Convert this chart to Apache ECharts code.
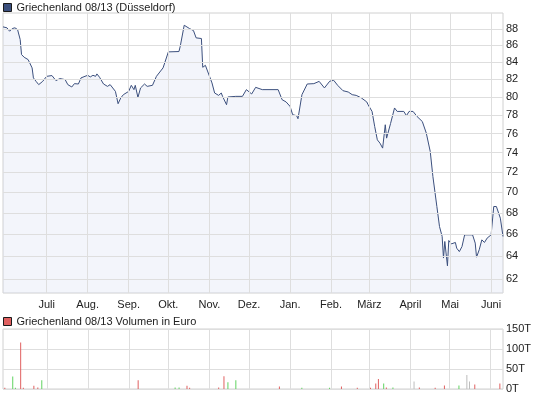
<!DOCTYPE html>
<html>
<head>
<meta charset="utf-8">
<script src="https://cdn.jsdelivr.net/npm/echarts@6/dist/echarts.min.js"></script>
<style>
html,body{margin:0;padding:0;background:#fff;}
#chart{width:545px;height:398px;}
</style>
</head>
<body>
<div id="chart"></div>
<script>
const priceName = 'Griechenland 08/13 (Düsseldorf)';
const volumeName = 'Griechenland 08/13 Volumen in Euro';

const priceDates = [
'2011-05-29','2011-06-01','2011-06-03','2011-06-05','2011-06-07','2011-06-09','2011-06-11','2011-06-12','2011-06-14','2011-06-17',
'2011-06-20','2011-06-21','2011-06-23','2011-06-25','2011-06-28','2011-07-01','2011-07-05','2011-07-08','2011-07-11','2011-07-15',
'2011-07-17','2011-07-20','2011-07-22','2011-07-25','2011-07-27','2011-08-01','2011-08-03','2011-08-05','2011-08-07','2011-08-08',
'2011-08-10','2011-08-13','2011-08-16','2011-08-18','2011-08-22','2011-08-24','2011-08-26','2011-08-28','2011-09-01','2011-09-03',
'2011-09-05','2011-09-06','2011-09-08','2011-09-10','2011-09-13','2011-09-15','2011-09-19','2011-09-22','2011-09-27','2011-10-01',
'2011-10-09','2011-10-10','2011-10-13','2011-10-17','2011-10-20','2011-10-22','2011-10-26','2011-10-27','2011-10-29','2011-11-03',
'2011-11-05','2011-11-08','2011-11-10','2011-11-11','2011-11-14','2011-11-15','2011-11-21','2011-11-26','2011-11-29','2011-12-03',
'2011-12-06','2011-12-11','2011-12-23','2011-12-26','2011-12-29','2012-01-01','2012-01-03','2012-01-06','2012-01-07','2012-01-10',
'2012-01-14','2012-01-19','2012-01-23','2012-01-27','2012-01-31','2012-02-03','2012-02-06','2012-02-10','2012-02-14','2012-02-17',
'2012-02-20','2012-02-24','2012-02-28','2012-02-29','2012-03-03','2012-03-05','2012-03-07','2012-03-09','2012-03-11','2012-03-13',
'2012-03-14','2012-03-17','2012-03-18','2012-03-20','2012-03-22','2012-03-27','2012-03-29','2012-03-31','2012-04-03','2012-04-06',
'2012-04-10','2012-04-11','2012-04-13','2012-04-16','2012-04-18','2012-04-21','2012-04-23','2012-04-25','2012-04-26','2012-04-27',
'2012-04-28','2012-04-29','2012-04-30','2012-05-02','2012-05-05','2012-05-06','2012-05-08','2012-05-10','2012-05-12','2012-05-18',
'2012-05-20','2012-05-21','2012-05-23','2012-05-25','2012-05-27','2012-05-29','2012-06-01','2012-06-03','2012-06-05','2012-06-08',
'2012-06-10'
];
const priceValues = [
88.27,88.15,87.73,88.06,88.15,87.94,86.71,84.91,84.59,84.31,
83.34,82.18,81.78,81.41,81.78,82.36,82.45,81.87,82.10,81.98,
81.41,81.14,81.52,81.48,82.18,82.48,82.29,82.48,82.36,82.64,
82.25,81.48,81.21,81.41,80.64,79.26,79.90,80.27,80.64,81.33,
80.84,81.33,79.97,81.03,81.48,81.21,81.33,82.36,83.34,85.23,
85.27,85.90,88.47,88.06,87.81,86.92,86.84,83.41,83.64,81.60,
80.46,80.19,80.46,80.08,79.15,80.01,80.08,80.08,80.84,80.35,
81.10,80.84,80.84,79.71,79.46,78.97,78.05,77.94,77.61,80.27,
81.48,81.52,81.78,81.03,81.80,81.90,81.33,80.72,80.57,80.27,
80.19,79.90,79.46,79.15,78.41,76.77,75.35,75.00,74.48,76.96,
75.53,77.10,77.31,78.79,78.41,78.41,77.94,78.41,78.41,77.86,
77.31,77.14,76.07,74.13,71.58,68.63,66.73,65.81,63.85,65.35,
65.35,63.16,65.44,65.13,65.26,64.74,64.43,64.89,65.96,65.96,
65.20,63.93,64.59,65.50,65.26,65.66,65.96,68.63,68.63,67.52,
65.81
];

const volDates = [
'2011-05-30','2011-06-05','2011-06-07','2011-06-11','2011-06-13','2011-06-21','2011-06-24','2011-06-27','2011-09-08','2011-10-06',
'2011-10-09','2011-10-15','2011-10-17','2011-11-08','2011-11-12','2011-11-15','2011-11-21','2011-12-24','2012-01-10','2012-01-31',
'2012-02-09','2012-02-21','2012-03-02','2012-03-06','2012-03-08','2012-03-12','2012-03-14','2012-03-19','2012-04-04','2012-04-08',
'2012-04-20','2012-04-27','2012-05-08','2012-05-14','2012-05-16','2012-05-20','2012-06-08'
];
const volValues = [
3,31,3,116,3,8,4,22,22,4,
4,8,3,4,32,17,22,6,3,3,
6,3,3,14,25,14,4,4,19,4,
3,9,9,35,19,11,14
];
const volDir = [
'down','up','up','down','down','down','down','up','down','up',
'up','down','down','down','down','up','up','down','up','up',
'down','down','down','down','down','up','down','up','flat','down',
'down','down','up','flat','flat','down','down'
];

const yTicks = [62,64,66,68,70,72,74,76,78,80,82,84,86,88];
const monthStarts = ['2011-07-01','2011-08-01','2011-09-01','2011-10-01','2011-11-01','2011-12-01',
  '2012-01-01','2012-02-01','2012-03-01','2012-04-01','2012-05-01','2012-06-01'];
const monthLabels = ['Jan.','Feb.','März','April','Mai','Juni','Juli','Aug.','Sep.','Okt.','Nov.','Dez.'];

const dirColor = { up: '#5fd35f', down: '#e06060', flat: '#bdbdbd' };
const FONT = '"Liberation Sans", Arial, sans-serif';
const textColor = '#222';
const gridColor = '#dedede';
const DAY = 24 * 3600 * 1000;
const X_MIN = '2011-05-29';
const X_MAX = '2012-06-10';
const Y_MIN = 60.8;
const Y_MAX = 90;
const firstMonth = echarts.time.parse(monthStarts[0]).getTime();

const chart = echarts.init(document.getElementById('chart'), null, { renderer: 'canvas' });

const timeAxisBase = {
  type: 'time',
  min: X_MIN,
  max: X_MAX,
  minInterval: 28 * DAY,
  maxInterval: 31 * DAY,
  splitNumber: 12,
  axisLine: { show: false },
  axisTick: { show: false },
  splitLine: { show: false },
  minorTick: { show: false },
  minorSplitLine: { show: false }
};

const vLines = monthStarts.map(function (d) { return { xAxis: d, label: { show: false } }; });
const gridLineStyle = { color: gridColor, type: 'solid', width: 1 };

chart.setOption({
  animation: false,
  textStyle: { fontFamily: FONT },
  legend: [
    {
      data: [{ name: priceName, icon: 'rect' }],
      left: 3, top: 2, padding: 0,
      itemWidth: 8, itemHeight: 8,
      itemStyle: { borderColor: '#1a1a1a', borderWidth: 1 },
      textStyle: { fontSize: 11, color: textColor, fontFamily: FONT },
      selectedMode: false
    },
    {
      data: [{ name: volumeName, icon: 'rect' }],
      left: 3, top: 316, padding: 0,
      itemWidth: 8, itemHeight: 8,
      itemStyle: { borderColor: '#1a1a1a', borderWidth: 1 },
      textStyle: { fontSize: 11, color: textColor, fontFamily: FONT },
      selectedMode: false
    }
  ],
  grid: [
    { left: 3, top: 13, width: 500, height: 280, show: true, borderColor: '#d0d0d0', borderWidth: 1, containLabel: false },
    { left: 3, top: 329, width: 500, height: 60, show: true, borderColor: '#d0d0d0', borderWidth: 1, containLabel: false }
  ],
  xAxis: [
    Object.assign({}, timeAxisBase, {
      gridIndex: 0,
      axisLabel: {
        show: true, fontSize: 11, color: textColor, margin: 6, fontFamily: FONT,
        formatter: function (v) {
          if (v < firstMonth - DAY) return '';
          return monthLabels[new Date(v).getMonth()];
        }
      }
    }),
    Object.assign({}, timeAxisBase, {
      gridIndex: 1,
      axisLabel: { show: false }
    })
  ],
  yAxis: [
    {
      type: 'log', logBase: 10, gridIndex: 0, position: 'right',
      min: Y_MIN, max: Y_MAX,
      axisLine: { show: false }, axisTick: { show: false },
      axisLabel: { show: false }, splitLine: { show: false }
    },
    {
      type: 'value', gridIndex: 1, position: 'right',
      min: 0, max: 150, interval: 50,
      axisLine: { show: false }, axisTick: { show: false },
      splitLine: { show: true, lineStyle: { color: gridColor } },
      axisLabel: { fontSize: 11, color: textColor, margin: 3, fontFamily: FONT,
        verticalAlign: 'middle', padding: [6, 0, 0, 0],
        formatter: function (v) { return v + 'T'; } }
    }
  ],
  series: [
    {
      name: '__grid',
      type: 'line', xAxisIndex: 0, yAxisIndex: 0,
      data: [], z: 1, silent: true, clip: false,
      markLine: {
        silent: true,
        symbol: ['none', 'none'],
        animation: false,
        lineStyle: gridLineStyle,
        label: {
          show: true, position: 'end', distance: 3,
          color: textColor, fontSize: 11, fontFamily: FONT,
          formatter: function (p) { return String(p.value); }
        },
        emphasis: { disabled: true },
        data: yTicks.map(function (v) { return { yAxis: v }; }).concat(vLines)
      }
    },
    {
      name: '__grid2',
      type: 'line', xAxisIndex: 1, yAxisIndex: 1,
      data: [], z: 1, silent: true, clip: false,
      markLine: {
        silent: true,
        symbol: ['none', 'none'],
        animation: false,
        lineStyle: gridLineStyle,
        label: { show: false },
        emphasis: { disabled: true },
        data: vLines
      }
    },
    {
      name: priceName,
      type: 'line', xAxisIndex: 0, yAxisIndex: 0, z: 3,
      showSymbol: false, symbol: 'none',
      data: priceDates.map(function (d, i) { return [d, priceValues[i]]; }),
      lineStyle: { color: '#3b4f7d', width: 1 },
      itemStyle: { color: '#3b4f7d' },
      areaStyle: { color: 'rgba(205,215,240,0.35)', origin: 'start' }
    },
    {
      name: volumeName,
      type: 'bar', xAxisIndex: 1, yAxisIndex: 1, z: 3,
      barWidth: 1,
      itemStyle: { color: '#e06060' },
      data: volDates.map(function (d, i) {
        return { value: [d, volValues[i]], itemStyle: { color: dirColor[volDir[i]] } };
      })
    }
  ]
});
</script>
</body>
</html>
